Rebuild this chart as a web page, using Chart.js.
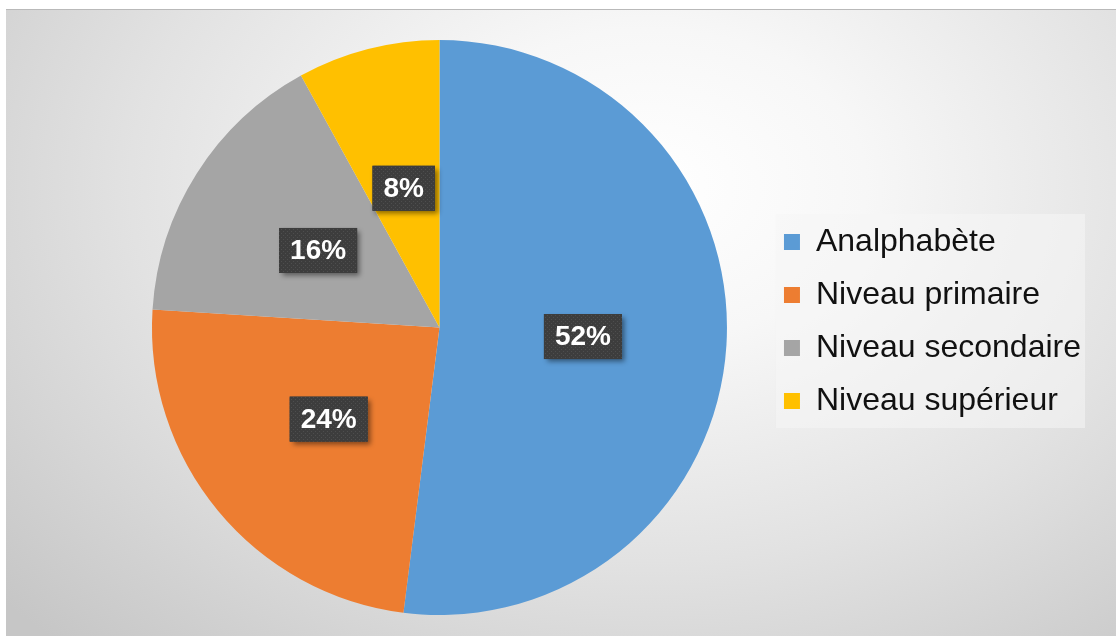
<!DOCTYPE html>
<html>
<head>
<meta charset="utf-8">
<script src="https://cdn.jsdelivr.net/npm/chart.js@4/dist/chart.umd.min.js"></script>
<style>
    html, body { margin: 0; padding: 0; background: #ffffff; }
    #wrap {
        position: absolute; left: 6px; top: 9px; width: 1110px; height: 627px;
        border-top: 1px solid #b9b9b9;
        box-sizing: border-box;
        background: radial-gradient(ellipse 78% 100% at 58% 28%, #ffffff 0%, #f7f7f7 25%, #e2e2e2 60%, #c6c6c6 100%);
    }
</style>
</head>
<body>
<div id="wrap"><canvas id="pie"></canvas></div>
<script>
const categories = ['Analphabète', 'Niveau primaire', 'Niveau secondaire', 'Niveau supérieur'];
const shares = [52, 24, 16, 8];
const sliceColors = ['#5B9BD5', '#ED7D31', '#A5A5A5', '#FFC000'];

const FONT = '"Liberation Sans", Arial, sans-serif';

// dotted dark fill used by the label boxes
function makeDotPattern(ctx) {
    const c = document.createElement('canvas');
    c.width = 4; c.height = 4;
    const g = c.getContext('2d');
    g.fillStyle = '#3d3d3d';
    g.fillRect(0, 0, 4, 4);
    g.fillStyle = '#4e4e4e';
    g.fillRect(1, 1, 1, 1);
    g.fillRect(3, 3, 1, 1);
    return ctx.createPattern(c, 'repeat');
}

const legendShift = {
    id: 'legendShift',
    afterLayout(chart) {
        const lg = chart.legend;
        lg.top -= 6;
        lg.bottom -= 6;
        lg.left -= 2;
        lg.right -= 2;
    },
    beforeDraw(chart) {
        const lg = chart.legend;
        const pad = lg.options.labels.padding;
        const itemH = 32 + pad;
        const colH = itemH * categories.length;
        const y0 = (lg.top + pad + lg.bottom - colH) / 2;
        const x0 = lg.left + pad;
        const ctx = chart.ctx;
        ctx.save();
        ctx.fillStyle = 'rgba(245,245,245,0.55)';
        ctx.fillRect(x0 - 8, y0 - 12, 309, colH - pad + 23);
        ctx.restore();
    }
};

const boxLabels = {
    id: 'boxLabels',
    afterDatasetsDraw(chart) {
        const ctx = chart.ctx;
        const meta = chart.getDatasetMeta(0);
        const pattern = makeDotPattern(ctx);
        ctx.save();
        ctx.font = 'bold 28px ' + FONT;
        meta.data.forEach((arc, i) => {
            const p = arc.tooltipPosition();
            const txt = shares[i] + '%';
            const w = ctx.measureText(txt).width + 22;
            const h = 45;
            ctx.save();
            ctx.shadowColor = 'rgba(0,0,0,0.45)';
            ctx.shadowBlur = 5;
            ctx.shadowOffsetX = 3;
            ctx.shadowOffsetY = 3;
            ctx.fillStyle = '#3d3d3d';
            ctx.fillRect(p.x - w / 2, p.y - h / 2, w, h);
            ctx.restore();
            ctx.fillStyle = pattern;
            ctx.fillRect(p.x - w / 2, p.y - h / 2, w, h);
            ctx.fillStyle = '#ffffff';
            ctx.textAlign = 'center';
            ctx.textBaseline = 'middle';
            ctx.fillText(txt, p.x, p.y + 1);
        });
        ctx.restore();
    }
};

new Chart(document.getElementById('pie'), {
    type: 'pie',
    data: {
        labels: categories,
        datasets: [{
            data: shares,
            backgroundColor: sliceColors,
            borderWidth: 0
        }]
    },
    options: {
        responsive: true,
        maintainAspectRatio: false,
        animation: false,
        layout: { padding: { left: 108, right: 23, top: 30, bottom: 21 } },
        plugins: {
            tooltip: { enabled: false },
            legend: {
                position: 'right',
                labels: {
                    boxWidth: 16,
                    boxHeight: 16,
                    padding: 21,
                    color: '#111111',
                    font: { family: FONT, size: 32 }
                }
            }
        }
    },
    plugins: [legendShift, boxLabels]
});
</script>
</body>
</html>
